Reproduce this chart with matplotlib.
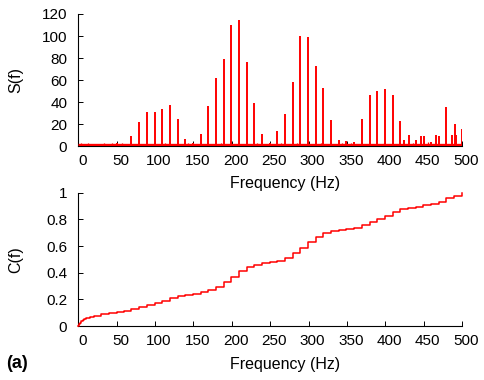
import numpy as np
import matplotlib
matplotlib.use("Agg")
import matplotlib.pyplot as plt
import matplotlib.transforms as mtransforms

plt.rcParams['font.family'] = ['Liberation Sans', 'DejaVu Sans']
plt.rcParams['font.size'] = 11

############################################################################
# DATA
# spectrum peaks (Hz) and their heights S(f)
peak_freq = [50, 69.0, 79.5, 89.5, 99.5, 109.5, 119.5, 129.5, 139.5, 149.5, 159.5,
             169.5, 179.5, 189.5, 199.5, 209.5, 219.5, 229.5, 239.5, 249.5, 259.5,
             269.5, 279.5, 289.5, 299.5, 309.5, 319.5, 329.5, 339.5, 349.5, 359.5,
             369.5, 379.5, 389.5, 399.5, 409.5, 419.5, 425, 430.5, 439.5, 447,
             450.5, 459.5, 466.5, 470, 479.5, 487.5, 490.5, 492.5, 500]
peak_height = [3, 9.5, 22, 31, 31, 34, 38, 25, 7, 3.5, 11,
               37, 62, 79.5, 110, 114.5, 76.5, 39.5, 11, 3.5, 14,
               29.5, 58.5, 100.5, 99, 73, 53, 24, 6, 5, 4,
               25, 46.5, 50, 52, 46.5, 23.5, 6, 10.5, 6, 9.5,
               9.5, 4.5, 10.5, 9.5, 35.5, 10, 20.5, 10, 16]
# small spikes in the noise floor
noise_freq = [4, 12, 21, 33, 44, 57, 113, 143, 186, 233, 264, 285, 316, 344, 355, 398, 436, 456]
noise_height = [3.5, 3, 2.5, 3, 3.5, 3, 3, 3, 3.5, 3, 3, 3.5, 3, 3.5, 3, 3.5, 3, 4]
noise_level = 1.0

# cumulative curve C(f), value just after each frequency
cum_freq = [0, 1, 2, 4, 6, 8, 10, 15, 20, 30, 40, 50, 60,
            69.0, 79.5, 89.5, 99.5, 109.5, 119.5, 129.5, 139.5, 149.5, 159.5,
            169.5, 179.5, 189.5, 199.5, 209.5, 219.5, 229.5, 239.5, 249.5, 259.5,
            269.5, 279.5, 289.5, 299.5, 309.5, 319.5, 329.5, 339.5, 349.5, 359.5,
            369.5, 379.5, 389.5, 399.5, 409.5, 419.5, 429.5, 439.5, 449.5, 459.5,
            469.5, 479.5, 489.5, 499.5, 500]
cum_val = [0, 0.015, 0.025, 0.037, 0.045, 0.052, 0.058, 0.068, 0.076, 0.088, 0.097, 0.106, 0.114,
           0.128, 0.14, 0.155, 0.172, 0.19, 0.207, 0.222, 0.232, 0.242, 0.253,
           0.27, 0.295, 0.33, 0.37, 0.41, 0.44, 0.46, 0.47, 0.48, 0.49,
           0.51, 0.545, 0.585, 0.63, 0.665, 0.70, 0.715, 0.722, 0.73, 0.738,
           0.755, 0.778, 0.80, 0.828, 0.855, 0.875, 0.886, 0.895, 0.907, 0.915,
           0.93, 0.958, 0.978, 0.995, 1.0]

xticks = [0, 50, 100, 150, 200, 250, 300, 350, 400, 450, 500]
s_yticks = [0, 20, 40, 60, 80, 100, 120]
c_yticks = [0, 0.2, 0.4, 0.6, 0.8, 1]
c_yticklabels = ["0", "0.2", "0.4", "0.6", "0.8", "1"]
############################################################################

fig = plt.figure(figsize=(4.84, 3.80), dpi=100)
ax1 = fig.add_axes([0.1618, 0.6145, 0.7927, 0.3487])
ax2 = fig.add_axes([0.1618, 0.1421, 0.7927, 0.3508])

red = "#ff0000"

# Top panel: spectrum S(f)
ax1.hlines(noise_level, 0, 500, color=red, lw=2.4, zorder=3)
ax1.vlines(noise_freq, 0, noise_height, color=red, lw=0.9, zorder=3)
ax1.vlines(peak_freq, 0, peak_height, color=red, lw=1.4, zorder=3)
ax1.set_xlim(0, 500)
ax1.set_ylim(0, 120)
ax1.set_yticks(s_yticks)
ax1.set_ylabel("S(f)", fontsize=11.5)
ax1.set_xlabel("Frequency (Hz)", fontsize=11.5)
ax1.yaxis.set_label_coords(-0.144, 0.5)
ax1.xaxis.set_label_coords(0.54, -0.222)

# Bottom panel: cumulative C(f)
ax2.plot(cum_freq, cum_val, color=red, lw=1.1, drawstyle="steps-post", zorder=3, clip_on=False)
ax2.set_xlim(0, 500)
ax2.set_ylim(0, 1)
ax2.set_yticks(c_yticks)
ax2.set_yticklabels(c_yticklabels)
ax2.set_ylabel("C(f)", fontsize=11.5)
ax2.set_xlabel("Frequency (Hz)", fontsize=11.5)
ax2.yaxis.set_label_coords(-0.144, 0.5)
ax2.xaxis.set_label_coords(0.54, -0.236)

offset = mtransforms.ScaledTranslation(4 / 100, 0, fig.dpi_scale_trans)
for ax in (ax1, ax2):
    ax.set_xticks(xticks)
    for side in ("top", "right"):
        ax.spines[side].set_visible(False)
    for side in ("left", "bottom"):
        ax.spines[side].set_linewidth(0.8)
    ax.tick_params(axis="both", direction="in", length=3.5, width=0.7, top=False, right=False)
    ax.tick_params(axis="x", pad=5.5)
    ax.tick_params(axis="y", pad=8)
    for lab in ax.get_xticklabels():
        lab.set_transform(lab.get_transform() + offset)

fig.text(6.5 / 484, 1 - 364 / 380, "(a)", fontsize=13, fontweight="bold", va="center", ha="left")

plt.savefig("out.png", dpi=100)
plt.close()
